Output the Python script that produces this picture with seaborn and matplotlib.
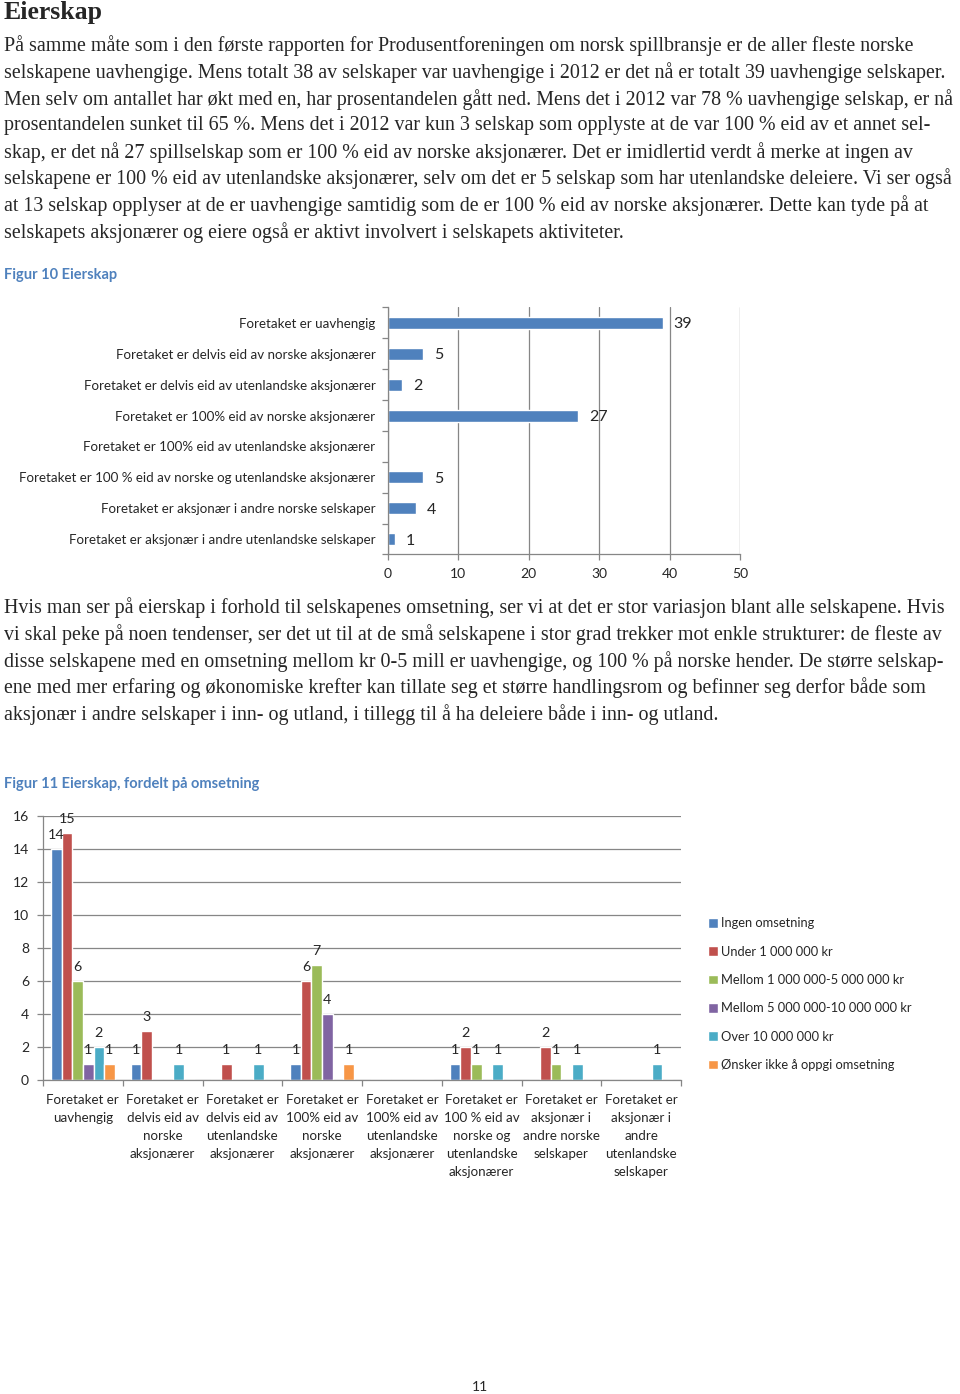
import matplotlib
matplotlib.use('Agg')
import matplotlib.pyplot as plt
import seaborn as sns
import pandas as pd
import numpy as np

# --- data: figur 10 ---
eier_kategorier = [
    'Foretaket er uavhengig',
    'Foretaket er delvis eid av norske aksjonærer',
    'Foretaket er delvis eid av utenlandske aksjonærer',
    'Foretaket er 100% eid av norske aksjonærer',
    'Foretaket er 100% eid av utenlandske aksjonærer',
    'Foretaket er 100 % eid av norske og utenlandske aksjonærer',
    'Foretaket er aksjonær i andre norske selskaper',
    'Foretaket er aksjonær i andre utenlandske selskaper',
]
eier_antall = [39, 5, 2, 27, 0, 5, 4, 1]

# --- data: figur 11 ---
grupper = [
    'Foretaket er\nuavhengig',
    'Foretaket er\ndelvis eid av\nnorske\naksjonærer',
    'Foretaket er\ndelvis eid av\nutenlandske\naksjonærer',
    'Foretaket er\n100% eid av\nnorske\naksjonærer',
    'Foretaket er\n100% eid av\nutenlandske\naksjonærer',
    'Foretaket er\n100 % eid av\nnorske og\nutenlandske\naksjonærer',
    'Foretaket er\naksjonær i\nandre norske\nselskaper',
    'Foretaket er\naksjonær i\nandre\nutenlandske\nselskaper',
]
omsetning = [
    'Ingen omsetning',
    'Under 1 000 000 kr',
    'Mellom 1 000 000-5 000 000 kr',
    'Mellom 5 000 000-10 000 000 kr',
    'Over 10 000 000 kr',
    'Ønsker ikke å oppgi omsetning',
]
ingen = [14, 1, 0, 1, 0, 1, 0, 0]
under_1 = [15, 3, 1, 6, 0, 2, 2, 0]
mellom_1_5 = [6, 0, 0, 7, 0, 1, 1, 0]
mellom_5_10 = [1, 0, 0, 4, 0, 0, 0, 0]
over_10 = [2, 1, 1, 0, 0, 1, 1, 1]
ikke_oppgitt = [1, 0, 0, 1, 0, 0, 0, 0]

farger = ['#4F81BD', '#C0504D', '#9BBB59', '#8064A2', '#4BACC6', '#F79646']

avsnitt_1 = [
    'På samme måte som i den første rapporten for Produsentforeningen om norsk spillbransje er de aller fleste norske',
    'selskapene uavhengige. Mens totalt 38 av selskaper var uavhengige i 2012 er det nå er totalt 39 uavhengige selskaper.',
    'Men selv om antallet har økt med en, har prosentandelen gått ned. Mens det i 2012 var 78 % uavhengige selskap, er nå',
    'prosentandelen sunket til 65 %. Mens det i 2012 var kun 3 selskap som opplyste at de var 100 % eid av et annet sel-',
    'skap, er det nå 27 spillselskap som er 100 % eid av norske aksjonærer. Det er imidlertid verdt å merke at ingen av',
    'selskapene er 100 % eid av utenlandske aksjonærer, selv om det er 5 selskap som har utenlandske deleiere. Vi ser også',
    'at 13 selskap opplyser at de er uavhengige samtidig som de er 100 % eid av norske aksjonærer. Dette kan tyde på at',
    'selskapets aksjonærer og eiere også er aktivt involvert i selskapets aktiviteter.',
]
avsnitt_2 = [
    'Hvis man ser på eierskap i forhold til selskapenes omsetning, ser vi at det er stor variasjon blant alle selskapene. Hvis',
    'vi skal peke på noen tendenser, ser det ut til at de små selskapene i stor grad trekker mot enkle strukturer: de fleste av',
    'disse selskapene med en omsetning mellom kr 0-5 mill er uavhengige, og 100 % på norske hender. De større selskap-',
    'ene med mer erfaring og økonomiske krefter kan tillate seg et større handlingsrom og befinner seg derfor både som',
    'aksjonær i andre selskaper i inn- og utland, i tillegg til å ha deleiere både i inn- og utland.',
]

sns.set_theme(style='white')
plt.rcParams['font.family'] = ['Lato', 'DejaVu Sans']

W, H = 960, 1394
fig = plt.figure(figsize=(W / 100, H / 100), dpi=100)


def fy(y):
    return 1 - y / H


serif = 'Liberation Serif'
grid_col = '#868686'
blue_cap = '#4F81BD'

# page text
fig.text(4 / W, fy(12), 'Eierskap', family=serif, fontweight='bold', fontsize=18.5, va='center')
for i, line in enumerate(avsnitt_1):
    fig.text(4 / W, fy(46 + i * 26.6), line, family=serif, fontsize=14.4, va='center')
for i, line in enumerate(avsnitt_2):
    fig.text(4 / W, fy(608 + i * 26.6), line, family=serif, fontsize=14.4, va='center')
fig.text(4 / W, fy(275), 'Figur 10 Eierskap', color=blue_cap, fontweight='bold', fontsize=10.5, va='center')
fig.text(4 / W, fy(784), 'Figur 11 Eierskap, fordelt på omsetning', color=blue_cap, fontweight='bold',
         fontsize=10.5, va='center')
fig.text(480 / W, fy(1387), '11', fontsize=10, ha='center', va='center')

# --- figur 10 ---
ax1 = fig.add_axes([388 / W, fy(554.5), 352 / W, 247 / H])
df1 = pd.DataFrame({'kategori': eier_kategorier, 'antall': eier_antall})
sns.barplot(data=df1, x='antall', y='kategori', orient='h', color=farger[0], width=0.39,
            saturation=1, ax=ax1)
ax1.set_xlim(0, 50)
ax1.set_xticks(range(0, 51, 10))
ax1.xaxis.grid(True, color=grid_col, linewidth=0.9)
ax1.yaxis.grid(False)
ax1.set_xlabel('')
ax1.set_ylabel('')
for s in ['top', 'right']:
    ax1.spines[s].set_visible(False)
for s in ['left', 'bottom']:
    ax1.spines[s].set_color(grid_col)
    ax1.spines[s].set_linewidth(0.9)
ax1.set_yticks(np.arange(-0.5, len(eier_kategorier), 1), minor=True)
ax1.tick_params(axis='y', which='major', length=0, labelsize=9.65, pad=9)
ax1.tick_params(axis='y', which='minor', left=True, length=4, color=grid_col, width=0.9)
ax1.tick_params(axis='x', bottom=True, length=4, color=grid_col, width=0.9, labelsize=10, pad=6)
for t in ax1.bar_label(ax1.containers[0], labels=[str(v) if v else '' for v in eier_antall],
                       padding=8, fontsize=11.5):
    t.set_va('center_baseline')

# --- figur 11 ---
ax2 = fig.add_axes([43 / W, fy(1080), 638 / W, 264 / H])
serier = [ingen, under_1, mellom_1_5, mellom_5_10, over_10, ikke_oppgitt]
rows = []
for navn, verdier in zip(omsetning, serier):
    for g, v in zip(grupper, verdier):
        rows.append({'gruppe': g, 'omsetning': navn, 'antall': v})
df2 = pd.DataFrame(rows)
sns.barplot(data=df2, x='gruppe', y='antall', hue='omsetning', hue_order=omsetning,
            palette=farger, saturation=1, width=0.8, ax=ax2)
ax2.set_ylim(0, 16)
ax2.set_yticks(range(0, 17, 2))
ax2.yaxis.grid(True, color=grid_col, linewidth=0.9)
ax2.xaxis.grid(False)
ax2.set_xlabel('')
ax2.set_ylabel('')
for s in ['top', 'right']:
    ax2.spines[s].set_visible(False)
for s in ['left', 'bottom']:
    ax2.spines[s].set_color(grid_col)
    ax2.spines[s].set_linewidth(0.9)
ax2.set_xticks(np.arange(-0.5, len(grupper), 1), minor=True)
ax2.tick_params(axis='x', which='major', length=0, labelsize=9.6, pad=10)
ax2.tick_params(axis='x', which='minor', bottom=True, length=4, color=grid_col, width=0.9)
ax2.tick_params(axis='y', left=True, length=4, color=grid_col, width=0.9, labelsize=10, pad=6)
for lab in ax2.get_xticklabels():
    lab.set_linespacing(1.6)
for cont, verdier in zip(ax2.containers, serier):
    ax2.bar_label(cont, labels=[str(v) if v else '' for v in verdier], padding=5.5, fontsize=10.3)

handles, labels = ax2.get_legend_handles_labels()
ax2.legend(handles, labels, loc='upper left', bbox_to_anchor=(702 / W, fy(911)),
           bbox_transform=fig.transFigure, frameon=False, borderpad=0, handlelength=0.75,
           handleheight=0.75, handletextpad=0.25, labelspacing=1.26, fontsize=9.3)

fig.savefig('out.png', dpi=100)
